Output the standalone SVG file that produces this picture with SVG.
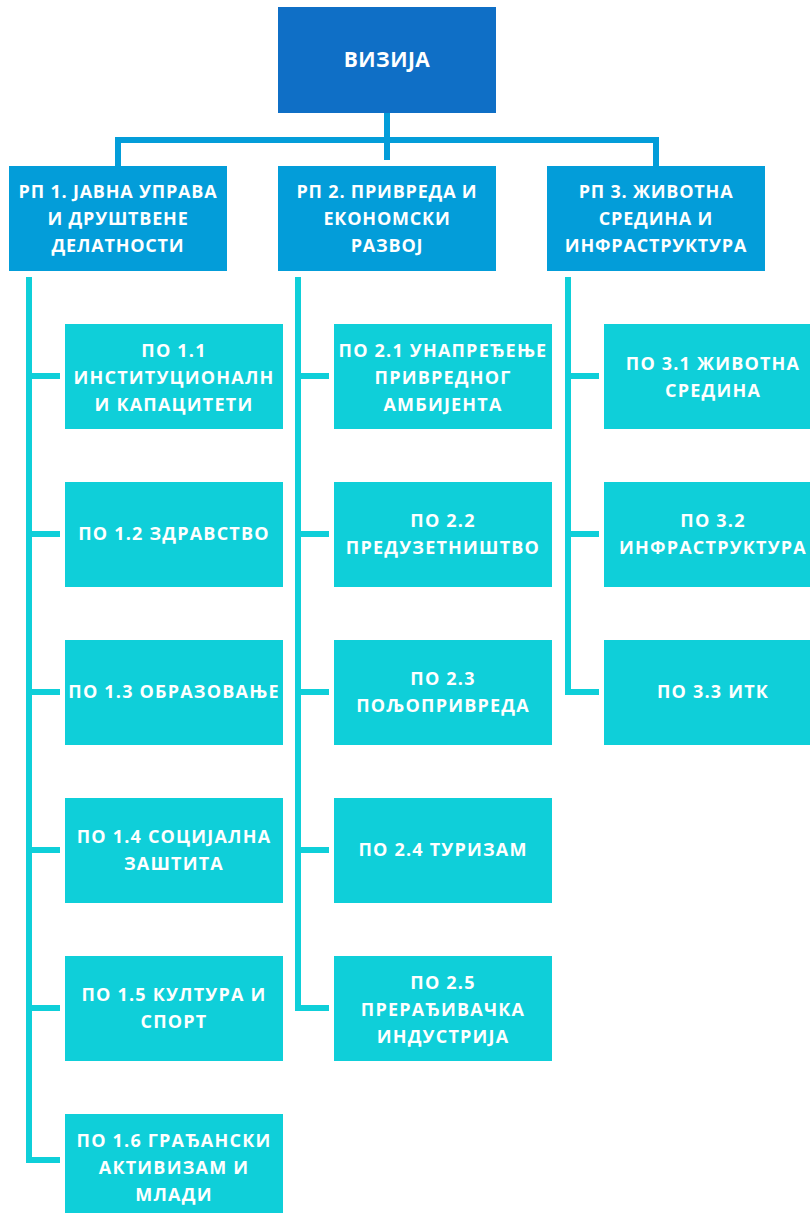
<svg xmlns="http://www.w3.org/2000/svg" width="810" height="1213" viewBox="0 0 810 1213">
<style>
.top{fill:#0F6FC6}
.rp{fill:#039DD9}
.po{fill:#0FCFD9}
.t{font-family:"Open Sans","Noto Sans","DejaVu Sans",sans-serif;font-weight:700;fill:#fff;text-anchor:middle}
.t1{font-size:21px;letter-spacing:0.5px}
.t2{font-size:18px;letter-spacing:0.8px}
.t3{font-size:18px;letter-spacing:1.2px}
.c1{stroke:#039DD9;stroke-width:6;fill:none}
.c2{stroke:#0FCFD9;stroke-width:6;fill:none}
</style>
<rect width="810" height="1213" fill="#fff"/>
<g id="connectors">
<path class="c1" d="M387 113V160M118 166V140H656V166"/>
<path class="c2" d="M29 277V1160H60M29 376H60M29 534H60M29 692H60M29 850H60M29 1008H60"/>
<path class="c2" d="M298 277V1008H329M298 376H329M298 534H329M298 692H329M298 850H329"/>
<path class="c2" d="M568 277V692H599M568 376H599M568 534H599"/>
</g>
<g id="vizija"><rect class="top" x="278" y="7" width="218" height="106"/><text class="t t1" x="387" y="67">ВИЗИЈА</text></g>
<g id="rp1"><rect class="rp" x="9" y="166" width="218" height="105"/><text class="t t2"><tspan x="118" y="198">РП 1. ЈАВНА УПРАВА</tspan><tspan x="118" y="225">И ДРУШТВЕНЕ</tspan><tspan x="118" y="252">ДЕЛАТНОСТИ</tspan></text></g>
<g id="rp2"><rect class="rp" x="278" y="166" width="218" height="105"/><text class="t t2"><tspan x="387" y="198">РП 2. ПРИВРЕДА И</tspan><tspan x="387" y="225">ЕКОНОМСКИ</tspan><tspan x="387" y="252">РАЗВОЈ</tspan></text></g>
<g id="rp3"><rect class="rp" x="547" y="166" width="218" height="105"/><text class="t t2"><tspan x="656" y="198">РП 3. ЖИВОТНА</tspan><tspan x="656" y="225">СРЕДИНА И</tspan><tspan x="656" y="252">ИНФРАСТРУКТУРА</tspan></text></g>
<g id="po11"><rect class="po" x="65" y="324" width="218" height="105"/><text class="t t3"><tspan x="174" y="357">ПО 1.1</tspan><tspan x="174" y="384">ИНСТИТУЦИОНАЛН</tspan><tspan x="174" y="411">И КАПАЦИТЕТИ</tspan></text></g>
<g id="po12"><rect class="po" x="65" y="482" width="218" height="105"/><text class="t t3" x="174" y="540">ПО 1.2 ЗДРАВСТВО</text></g>
<g id="po13"><rect class="po" x="65" y="640" width="218" height="105"/><text class="t t3" x="174" y="698">ПО 1.3 ОБРАЗОВАЊЕ</text></g>
<g id="po14"><rect class="po" x="65" y="798" width="218" height="105"/><text class="t t3"><tspan x="174" y="843">ПО 1.4 СОЦИЈАЛНА</tspan><tspan x="174" y="870">ЗАШТИТА</tspan></text></g>
<g id="po15"><rect class="po" x="65" y="956" width="218" height="105"/><text class="t t3"><tspan x="174" y="1001">ПО 1.5 КУЛТУРА И</tspan><tspan x="174" y="1028">СПОРТ</tspan></text></g>
<g id="po16"><rect class="po" x="65" y="1114" width="218" height="105"/><text class="t t3"><tspan x="174" y="1147">ПО 1.6 ГРАЂАНСКИ</tspan><tspan x="174" y="1174">АКТИВИЗАМ И</tspan><tspan x="174" y="1201">МЛАДИ</tspan></text></g>
<g id="po21"><rect class="po" x="334" y="324" width="218" height="105"/><text class="t t3"><tspan x="443" y="357">ПО 2.1 УНАПРЕЂЕЊЕ</tspan><tspan x="443" y="384">ПРИВРЕДНОГ</tspan><tspan x="443" y="411">АМБИЈЕНТА</tspan></text></g>
<g id="po22"><rect class="po" x="334" y="482" width="218" height="105"/><text class="t t3"><tspan x="443" y="527">ПО 2.2</tspan><tspan x="443" y="554">ПРЕДУЗЕТНИШТВО</tspan></text></g>
<g id="po23"><rect class="po" x="334" y="640" width="218" height="105"/><text class="t t3"><tspan x="443" y="685">ПО 2.3</tspan><tspan x="443" y="712">ПОЉОПРИВРЕДА</tspan></text></g>
<g id="po24"><rect class="po" x="334" y="798" width="218" height="105"/><text class="t t3" x="443" y="856">ПО 2.4 ТУРИЗАМ</text></g>
<g id="po25"><rect class="po" x="334" y="956" width="218" height="105"/><text class="t t3"><tspan x="443" y="989">ПО 2.5</tspan><tspan x="443" y="1016">ПРЕРАЂИВАЧКА</tspan><tspan x="443" y="1043">ИНДУСТРИЈА</tspan></text></g>
<g id="po31"><rect class="po" x="604" y="324" width="218" height="105"/><text class="t t3"><tspan x="713" y="370">ПО 3.1 ЖИВОТНА</tspan><tspan x="713" y="397">СРЕДИНА</tspan></text></g>
<g id="po32"><rect class="po" x="604" y="482" width="218" height="105"/><text class="t t3"><tspan x="713" y="527">ПО 3.2</tspan><tspan x="713" y="554">ИНФРАСТРУКТУРА</tspan></text></g>
<g id="po33"><rect class="po" x="604" y="640" width="218" height="105"/><text class="t t3" x="713" y="698">ПО 3.3 ИТК</text></g>
</svg>
